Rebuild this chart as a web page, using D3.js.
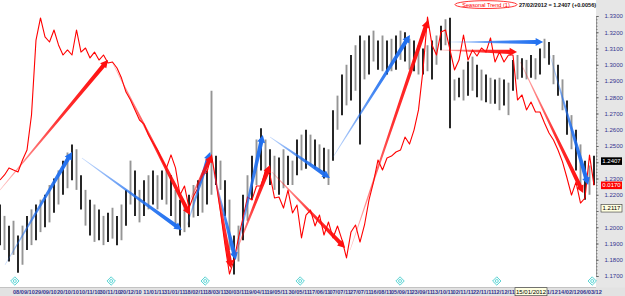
<!DOCTYPE html>
<html>
<head>
<meta charset="utf-8">
<script src="https://cdn.jsdelivr.net/npm/d3@7"></script>
<style>
  body { margin: 0; background: #fff; }
  svg { display: block; font-family: "Liberation Sans", Arial, sans-serif; }
</style>
</head>
<body>
<svg id="chart" width="625" height="296"></svg>
<script>
// price bars, one every 3 sessions (high / low)
const barHigh = [
  1.214, 1.207, 1.201, 1.204, 1.195, 1.201, 1.207, 1.211, 1.214, 1.217,
  1.220, 1.226, 1.230, 1.235, 1.241, 1.246, 1.251, 1.248, 1.232, 1.223,
  1.217, 1.214, 1.211, 1.207, 1.209, 1.212, 1.207, 1.214, 1.223, 1.241,
  1.235, 1.223, 1.229, 1.232, 1.235, 1.232, 1.235, 1.236, 1.232, 1.223,
  1.217, 1.214, 1.220, 1.226, 1.229, 1.231, 1.235, 1.284, 1.244, 1.241,
  1.229, 1.217, 1.195, 1.201, 1.220, 1.232, 1.244, 1.254, 1.261, 1.254,
  1.248, 1.244, 1.243, 1.248, 1.244, 1.241, 1.254, 1.257, 1.260, 1.257,
  1.254, 1.251, 1.249, 1.248, 1.272, 1.281, 1.294, 1.300, 1.306, 1.312,
  1.318, 1.315, 1.318, 1.321, 1.315, 1.318, 1.315, 1.316, 1.318, 1.321,
  1.320, 1.316, 1.315, 1.312, 1.310, 1.312, 1.315, 1.318, 1.324, 1.328,
  1.329, 1.291, 1.292, 1.297, 1.302, 1.305, 1.300, 1.297, 1.294, 1.292,
  1.291, 1.292, 1.291, 1.289, 1.303, 1.306, 1.304, 1.303, 1.306, 1.304,
  1.310, 1.316, 1.314, 1.306, 1.300, 1.291, 1.278, 1.269, 1.260, 1.251,
  1.241, 1.238, 1.244
];
const barLow = [
  1.189, 1.186, 1.179, 1.183, 1.172, 1.177, 1.186, 1.189, 1.192, 1.197,
  1.200, 1.203, 1.209, 1.214, 1.220, 1.224, 1.229, 1.223, 1.211, 1.201,
  1.195, 1.191, 1.192, 1.189, 1.191, 1.193, 1.189, 1.192, 1.201, 1.214,
  1.207, 1.203, 1.207, 1.211, 1.214, 1.211, 1.217, 1.214, 1.207, 1.200,
  1.195, 1.197, 1.200, 1.206, 1.207, 1.209, 1.214, 1.220, 1.226, 1.223,
  1.207, 1.186, 1.171, 1.179, 1.192, 1.204, 1.217, 1.226, 1.235, 1.230,
  1.226, 1.223, 1.220, 1.224, 1.226, 1.226, 1.232, 1.235, 1.236, 1.238,
  1.236, 1.234, 1.230, 1.226, 1.241, 1.260, 1.269, 1.275, 1.278, 1.284,
  1.251, 1.291, 1.294, 1.302, 1.297, 1.296, 1.294, 1.296, 1.297, 1.303,
  1.302, 1.297, 1.296, 1.294, 1.294, 1.296, 1.291, 1.300, 1.309, 1.312,
  1.261, 1.278, 1.280, 1.278, 1.281, 1.284, 1.280, 1.278, 1.277, 1.276,
  1.276, 1.272, 1.275, 1.269, 1.284, 1.291, 1.292, 1.291, 1.292, 1.291,
  1.294, 1.304, 1.300, 1.288, 1.281, 1.272, 1.257, 1.248, 1.235, 1.226,
  1.217, 1.220, 1.226
];
// seasonal trend, expressed on the price axis
const seasonal = [
  1.2291, 1.2322, 1.2365, 1.2352, 1.2340, 1.2414, 1.2475, 1.2691, 1.3152, 1.3288,
  1.3171, 1.3140, 1.3214, 1.3122, 1.3060, 1.3091, 1.3060, 1.3214, 1.3078, 1.3103,
  1.3042, 1.3078, 1.3029, 1.3060, 1.3011, 1.3017, 1.2980, 1.2918, 1.2832, 1.2783,
  1.2722, 1.2660, 1.2635, 1.2568, 1.2518, 1.2475, 1.2414, 1.2365, 1.2445, 1.2365,
  1.2198, 1.2254, 1.2118, 1.2192, 1.2242, 1.2322, 1.2340, 1.2445, 1.2278, 1.2094,
  1.1891, 1.1712, 1.1798, 1.1934, 1.2057, 1.2186, 1.2168, 1.2254, 1.2254, 1.2352,
  1.2322, 1.2180, 1.2186, 1.2118, 1.2229, 1.2088, 1.2137, 1.1934, 1.2075, 1.2106,
  1.2008, 1.2075, 1.1952, 1.2032, 1.1934, 1.2008, 1.1922, 1.1811, 1.1971, 1.2014,
  1.1909, 1.2014, 1.2168, 1.2278, 1.2414, 1.2352, 1.2426, 1.2438, 1.2463, 1.2475,
  1.2555, 1.2512, 1.2598, 1.2722, 1.2968, 1.3294, 1.3122, 1.3060, 1.3202, 1.3214,
  1.3091, 1.2968, 1.3029, 1.3183, 1.3029, 1.3091, 1.3054, 1.3103, 1.3078, 1.3165,
  1.3017, 1.3078, 1.3017, 1.3060, 1.3060, 1.2783, 1.2814, 1.2722, 1.2771, 1.2709,
  1.2709, 1.2642, 1.2580, 1.2537, 1.2475, 1.2402, 1.2303, 1.2198, 1.2278, 1.2149,
  1.2180, 1.2445, 1.2258
];

// trend arrows: [startBar, startValue, endBar, endValue]
const blueArrows = [
  [1.1, 1.1768, 16.0, 1.2463],
  [18.2, 1.2426, 40.4, 1.1983],
  [41.6, 1.2014, 46.7, 1.2463],
  [47.3, 1.2352, 52.4, 1.1798],
  [52.4, 1.1829, 58.4, 1.2568],
  [60.0, 1.2555, 73.3, 1.2303],
  [74.0, 1.2432, 91.1, 1.3183],
  [100.0, 1.3140, 120.7, 1.3140],
  [122.2, 1.3060, 130.7, 1.2260]
];
const redArrows = [
  [0.0, 1.2229, 24.0, 1.3029],
  [24.9, 1.3017, 42.2, 1.2075],
  [42.2, 1.2168, 47.1, 1.2445],
  [47.3, 1.2402, 51.3, 1.1749],
  [52.2, 1.1829, 60.0, 1.2383],
  [60.4, 1.2340, 76.7, 1.1872],
  [77.8, 1.1860, 95.1, 1.3275],
  [97.8, 1.3091, 114.9, 1.3078],
  [115.6, 1.3017, 129.6, 1.2211]
];

const yTickValues = [1.17, 1.18, 1.19, 1.20, 1.21, 1.22, 1.23, 1.24, 1.25, 1.26, 1.27, 1.28, 1.29, 1.30, 1.31, 1.32, 1.33];
const xTickLabels = [
  '08/09/10', '29/09/10', '20/10/10', '10/11/10', '30/11/10', '20/12/10', '11/01/11',
  '31/01/11', '18/02/11', '18/03/11', '30/03/11', '19/04/11', '19/05/11', '30/05/11',
  '17/06/11', '07/07/11', '27/07/11', '16/08/11', '05/09/11', '23/09/11', '13/10/11',
  '02/11/11', '22/11/11', '12/12/11', '03/01/12', '24/01/12', '14/02/12', '06/03/12'
];
const xTickPos = [
  2.89, 7.77, 12.66, 17.54, 22.10, 26.65, 31.86, 36.42, 40.98, 45.53,
  50.09, 54.65, 59.20, 64.09, 68.65, 73.20, 77.77, 82.33, 86.88, 91.44,
  96.00, 100.56, 105.11, 109.67, 114.22, 119.11, 124.00, 128.89
];
const eventPos = [3.3, 24.7, 45.6, 66.7, 88.9, 110.4, 131.6];

const lastClose = 1.2407;
const seasonalLast = '0.0170';
const cursorValue = 1.2117;
const cursorDate = '15/01/2012';
const cursorPos = 118;
const titleName = 'Seasonal Trend (1)';
const titleInfo = '27/02/2012 = 1.2407 (+0.0056)';

const width = 625;
const height = 296;
const plotRight = 596;
const plotBottom = 287.5;
const navy = '#34348f';
const boxH = 7.6;

const svg = d3.select('#chart');

const x = d3.scaleLinear().domain([0, 132]).range([0, 594]);
const y = d3.scaleLinear().domain([1.17, 1.33]).range([276, 16]);

// values shown in boxes on the price axis
const boxValues = [lastClose, seasonal[seasonal.length - 1], cursorValue];

// backgrounds
svg.append('rect').attr('width', width).attr('height', height).attr('fill', '#fff');
svg.append('rect')
  .attr('x', plotRight).attr('y', 0)
  .attr('width', width - plotRight).attr('height', height)
  .attr('fill', '#e6e6e6');
svg.append('rect')
  .attr('x', 0).attr('y', plotBottom)
  .attr('width', width).attr('height', height - plotBottom)
  .attr('fill', '#e2e2e2');
svg.append('line')
  .attr('x1', 0).attr('x2', plotRight).attr('y1', plotBottom).attr('y2', plotBottom)
  .attr('stroke', '#b8b8b8').attr('stroke-width', 0.8);

const defs = svg.append('defs');
defs.append('clipPath').attr('id', 'plotClip')
  .append('rect').attr('width', plotRight).attr('height', plotBottom);

const plot = svg.append('g').attr('clip-path', 'url(#plotClip)');

// price bars
plot.append('g')
  .selectAll('line')
  .data(barHigh.map((h, i) => ({ i, h, l: barLow[i] })))
  .join('line')
  .attr('x1', d => x(d.i))
  .attr('x2', d => x(d.i))
  .attr('y1', d => y(d.h))
  .attr('y2', d => y(d.l))
  .attr('stroke', d => (d.i % 2 ? '#959595' : '#1c1c1c'))
  .attr('stroke-width', 1.9);

// seasonal line
plot.append('path')
  .datum(seasonal)
  .attr('fill', 'none')
  .attr('stroke', '#ff0000')
  .attr('stroke-width', 1.1)
  .attr('stroke-linejoin', 'round')
  .attr('d', d3.line().x((d, i) => x(i)).y(d => y(d)));

// tapered arrows
const arrowShape = (x1, y1, x2, y2) => {
  const dx = x2 - x1;
  const dy = y2 - y1;
  const len = Math.hypot(dx, dy);
  const ux = dx / len;
  const uy = dy / len;
  const px = -uy;
  const py = ux;
  const w0 = 0.3;
  const w1 = 2.1;
  const headLen = 7.5;
  const headW = 4;
  const bx = x2 - ux * headLen;
  const by = y2 - uy * headLen;

  return [
    [x1 + px * w0, y1 + py * w0],
    [bx + px * w1, by + py * w1],
    [bx + px * headW, by + py * headW],
    [x2, y2],
    [bx - px * headW, by - py * headW],
    [bx - px * w1, by - py * w1],
    [x1 - px * w0, y1 - py * w0]
  ];
};

const drawArrows = (list, color, name) => {
  list.forEach((a, i) => {
    const x1 = x(a[0]);
    const y1 = y(a[1]);
    const x2 = x(a[2]);
    const y2 = y(a[3]);
    const id = `${ name }-${ i }`;
    const grad = defs.append('linearGradient')
      .attr('id', id)
      .attr('gradientUnits', 'userSpaceOnUse')
      .attr('x1', x1).attr('y1', y1).attr('x2', x2).attr('y2', y2);

    grad.append('stop').attr('offset', 0).attr('stop-color', color).attr('stop-opacity', 0.25);
    grad.append('stop').attr('offset', 0.55).attr('stop-color', color).attr('stop-opacity', 0.85);
    grad.append('stop').attr('offset', 1).attr('stop-color', color).attr('stop-opacity', 1);

    plot.append('polygon')
      .attr('points', arrowShape(x1, y1, x2, y2).map(p => p.join(',')).join(' '))
      .attr('fill', `url(#${ id })`);
  });
};

drawArrows(blueArrows, '#1f6ff0', 'blue');
drawArrows(redArrows, '#ff0d0d', 'red');

// event markers
const events = svg.append('g')
  .selectAll('g')
  .data(eventPos)
  .join('g')
  .attr('transform', d => `translate(${ x(d) },281)`);

events.append('path')
  .attr('d', 'M0,-4.2L4.2,0L0,4.2L-4.2,0Z')
  .attr('fill', '#effefe')
  .attr('stroke', '#3cc8c8')
  .attr('stroke-width', 0.8);

events.append('circle')
  .attr('r', 1.5)
  .attr('fill', 'none')
  .attr('stroke', '#3cc8c8')
  .attr('stroke-width', 0.7);

// right axis (labels under a value box are hidden, as on the terminal)
const isCovered = v => boxValues.some(b => Math.abs(y(b) - y(v)) < boxH / 2 + 2.5);

const yAxisG = svg.append('g')
  .attr('transform', `translate(${ plotRight },0)`)
  .call(d3.axisRight(y)
    .tickValues(yTickValues)
    .tickSize(2.5)
    .tickPadding(6)
    .tickFormat(d => (isCovered(d) ? '' : d3.format('.4f')(d))));

yAxisG.select('.domain').attr('stroke', '#888').attr('stroke-width', 0.8);
yAxisG.selectAll('.tick line').attr('stroke', '#555');
yAxisG.selectAll('text')
  .attr('fill', navy)
  .attr('font-size', 6)
  .attr('font-family', '"Liberation Sans", Arial, sans-serif');

svg.append('g')
  .attr('transform', `translate(${ plotRight },0)`)
  .call(d3.axisRight(y).ticks(64).tickSize(1.5).tickFormat(''))
  .call(g => g.select('.domain').remove())
  .selectAll('.tick line').attr('stroke', '#777');

// bottom date labels (the one fully under the cursor box is not drawn)
const dateBoxLeft = x(cursorPos) - 16;
const dateBoxRight = x(cursorPos) + 16;
const labelData = xTickLabels
  .map((d, i) => ({ text: d, pos: x(xTickPos[i]) }))
  .filter(d => !(d.pos >= dateBoxLeft - 4 && d.pos + 21 <= dateBoxRight + 4));

svg.append('g')
  .selectAll('text')
  .data(labelData)
  .join('text')
  .attr('x', d => d.pos)
  .attr('y', 293.5)
  .attr('fill', navy)
  .attr('font-size', 5.6)
  .attr('font-weight', 'bold')
  .text(d => d.text);

// value boxes on the price axis
const valueBox = (val, label, fill, stroke, textColor) => {
  const g = svg.append('g').attr('transform', `translate(601,${ y(val) })`);

  g.append('rect')
    .attr('x', 0).attr('y', -boxH / 2)
    .attr('width', 21).attr('height', boxH)
    .attr('fill', fill)
    .attr('stroke', stroke)
    .attr('stroke-width', 0.6);

  g.append('text')
    .attr('x', 10.5).attr('y', 2.1)
    .attr('text-anchor', 'middle')
    .attr('font-size', 6)
    .attr('fill', textColor)
    .text(label);
};

valueBox(lastClose, d3.format('.4f')(lastClose), '#000', 'none', '#fff');
valueBox(seasonal[seasonal.length - 1], seasonalLast, '#ff0000', 'none', '#fff');
valueBox(cursorValue, d3.format('.4f')(cursorValue), '#ffffe1', '#333', '#000');

// cursor date box
const dateBox = svg.append('g').attr('transform', `translate(${ x(cursorPos) },291.7)`);

dateBox.append('rect')
  .attr('x', -16).attr('y', -4)
  .attr('width', 32).attr('height', 8)
  .attr('fill', '#ffffe1')
  .attr('stroke', '#333')
  .attr('stroke-width', 0.6);

dateBox.append('text')
  .attr('y', 2.1)
  .attr('text-anchor', 'middle')
  .attr('font-size', 6)
  .attr('fill', '#000')
  .text(cursorDate);

// title
svg.append('ellipse')
  .attr('cx', 486).attr('cy', 4.6)
  .attr('rx', 31).attr('ry', 3.9)
  .attr('fill', 'none')
  .attr('stroke', '#ff0000')
  .attr('stroke-width', 0.8);

svg.append('text')
  .attr('x', 486).attr('y', 6.6)
  .attr('text-anchor', 'middle')
  .attr('font-size', 5.6)
  .attr('fill', '#ff0000')
  .text(titleName);

svg.append('text')
  .attr('x', 519).attr('y', 6.6)
  .attr('font-size', 5.6)
  .attr('font-weight', 'bold')
  .attr('fill', '#111')
  .text(titleInfo);
</script>
</body>
</html>
